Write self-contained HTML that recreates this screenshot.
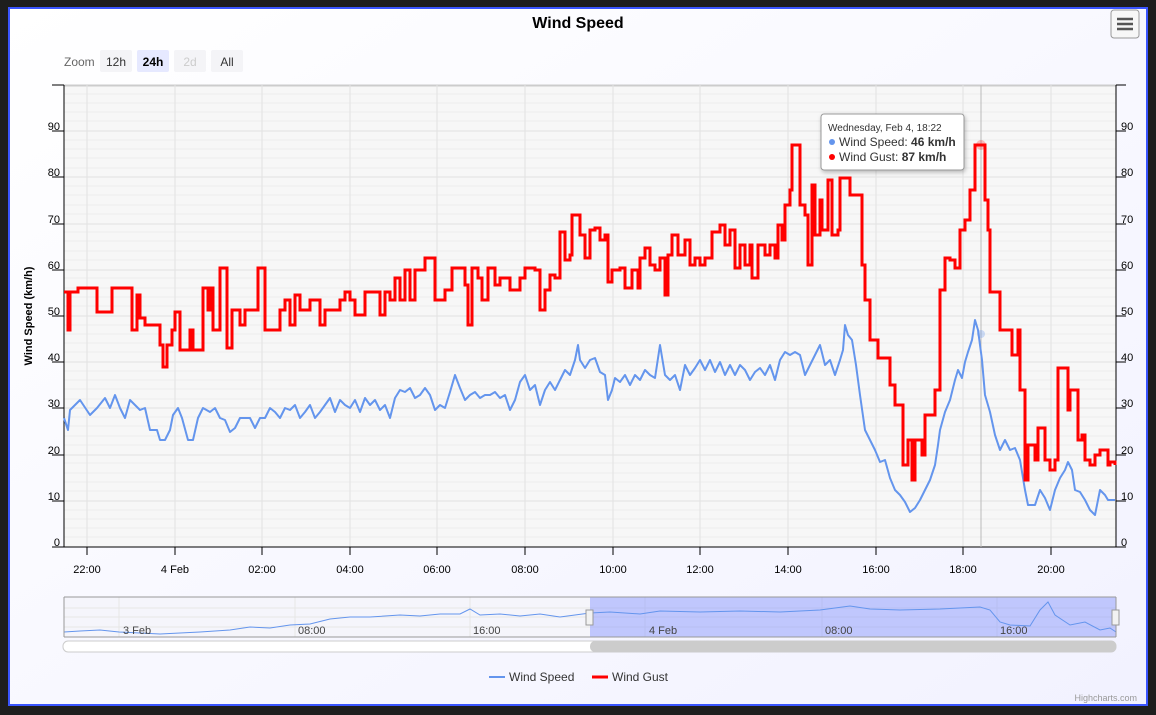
<!DOCTYPE html>
<html><head><meta charset="utf-8"><style>
body{margin:0;width:1156px;height:710px;background:#1e1e1e;overflow:hidden;font-family:"Liberation Sans",sans-serif}
</style></head><body>
<svg width="1156" height="710" xmlns="http://www.w3.org/2000/svg" font-family="Liberation Sans, sans-serif">
<defs><linearGradient id="bg" x1="0" y1="0" x2="1" y2="1"><stop offset="0" stop-color="#ffffff"/><stop offset="1" stop-color="#f2f2ff"/></linearGradient></defs>
<rect x="9" y="8" width="1138" height="697" fill="url(#bg)" stroke="#3a55ff" stroke-width="2"/>
<text x="578" y="28" text-anchor="middle" font-size="16" font-weight="bold" fill="#000">Wind Speed</text>
<rect x="1111" y="10" width="28" height="28" rx="3" fill="#f7f7f7" stroke="#999"/>
<path d="M1117 19h16M1117 24h16M1117 29h16" stroke="#555" stroke-width="2.5"/>
<text x="64" y="66" font-size="12" fill="#666">Zoom</text>
<rect x="100" y="50" width="32" height="22" rx="2" fill="#f4f4f7"/><text x="116" y="66" font-size="12" text-anchor="middle" fill="#333">12h</text>
<rect x="137" y="50" width="32" height="22" rx="2" fill="#e6e9ff"/><text x="153" y="66" font-size="12" text-anchor="middle" font-weight="bold" fill="#000">24h</text>
<rect x="174" y="50" width="32" height="22" rx="2" fill="#f4f4f7"/><text x="190" y="66" font-size="12" text-anchor="middle" fill="#ccc">2d</text>
<rect x="211" y="50" width="32" height="22" rx="2" fill="#f4f4f7"/><text x="227" y="66" font-size="12" text-anchor="middle" fill="#333">All</text>
<rect x="64" y="85" width="1052" height="462" fill="#f7f7f7"/>
<line x1="64" y1="85.5" x2="1116" y2="85.5" stroke="#ccc" stroke-width="2"/>
<g stroke="#ececec" stroke-width="1">
<path d="M64 94h1052M64 103h1052M64 112h1052M64 121h1052M64 140h1052M64 149h1052M64 158h1052M64 168h1052M64 186h1052M64 195h1052M64 205h1052M64 214h1052M64 232h1052M64 241h1052M64 251h1052M64 260h1052M64 278h1052M64 288h1052M64 297h1052M64 306h1052M64 325h1052M64 334h1052M64 343h1052M64 352h1052M64 371h1052M64 380h1052M64 389h1052M64 399h1052M64 417h1052M64 426h1052M64 436h1052M64 445h1052M64 463h1052M64 473h1052M64 482h1052M64 491h1052M64 510h1052M64 519h1052M64 528h1052M64 537h1052"/>
</g>
<g stroke="#e2e2e2"><path d="M64 131h1052M64 177h1052M64 224h1052M64 270h1052M64 316h1052M64 362h1052M64 408h1052M64 455h1052M64 501h1052"/>
<path d="M87 85v462M175 85v462M262 85v462M350 85v462M437 85v462M525 85v462M613 85v462M700 85v462M788 85v462M876 85v462M963 85v462M1051 85v462"/></g>
<g stroke="#000"><path d="M64 85v462M1116 85v462M64 547h1052"/>
<path d="M52 85h12M52 131h12M52 177h12M52 224h12M52 270h12M52 316h12M52 362h12M52 408h12M52 455h12M52 501h12M52 547h12"/>
<path d="M1116 85h10M1116 131h10M1116 177h10M1116 224h10M1116 270h10M1116 316h10M1116 362h10M1116 408h10M1116 455h10M1116 501h10M1116 547h10"/>
<path d="M87 547v8M175 547v8M262 547v8M350 547v8M437 547v8M525 547v8M613 547v8M700 547v8M788 547v8M876 547v8M963 547v8M1051 547v8"/></g>
<g font-size="11" fill="#000" text-anchor="end">
<text x="60" y="130">90</text><text x="60" y="176">80</text><text x="60" y="223">70</text><text x="60" y="269">60</text><text x="60" y="315">50</text><text x="60" y="361">40</text><text x="60" y="407">30</text><text x="60" y="454">20</text><text x="60" y="500">10</text><text x="60" y="546">0</text></g>
<g font-size="11" fill="#000">
<text x="1121" y="130">90</text><text x="1121" y="176">80</text><text x="1121" y="223">70</text><text x="1121" y="269">60</text><text x="1121" y="315">50</text><text x="1121" y="361">40</text><text x="1121" y="407">30</text><text x="1121" y="454">20</text><text x="1121" y="500">10</text><text x="1121" y="546">0</text></g>
<g font-size="11" fill="#000" text-anchor="middle">
<text x="87" y="573">22:00</text><text x="175" y="573">4 Feb</text><text x="262" y="573">02:00</text><text x="350" y="573">04:00</text><text x="437" y="573">06:00</text><text x="525" y="573">08:00</text><text x="613" y="573">10:00</text><text x="700" y="573">12:00</text><text x="788" y="573">14:00</text><text x="876" y="573">16:00</text><text x="963" y="573">18:00</text><text x="1051" y="573">20:00</text></g>
<text transform="translate(32 316) rotate(-90)" font-size="11" font-weight="bold" text-anchor="middle">Wind Speed (km/h)</text>
<line x1="981" y1="85" x2="981" y2="547" stroke="#bbb"/>
<polyline fill="none" stroke="#6495ed" stroke-width="2" stroke-linejoin="round" points="64,418 68,430 70,410 80,400 90,415 97,408 105,398 110,408 115,395 120,408 125,418 130,400 135,405 140,410 145,408 150,430 157,430 160,440 165,440 170,430 173,415 178,408 182,418 188,440 193,440 198,418 203,408 210,412 215,408 220,418 225,420 230,432 235,428 240,418 245,418 250,418 255,428 260,418 265,418 270,408 275,412 280,418 285,408 290,410 295,405 300,418 305,412 310,405 315,418 320,412 325,405 330,398 335,412 340,400 345,405 350,408 355,400 360,412 365,398 370,405 375,400 380,410 385,405 390,418 395,398 400,390 405,392 410,388 415,398 420,395 425,388 430,395 435,410 440,405 445,408 450,392 455,375 460,388 465,400 470,395 475,392 480,398 485,395 490,395 495,392 500,398 505,395 510,410 515,400 520,382 525,375 530,390 535,385 540,405 545,390 550,382 555,390 560,380 565,370 570,375 575,360 578,345 580,360 585,368 590,360 595,358 600,372 605,375 608,400 612,390 615,378 620,382 625,375 630,385 635,375 640,380 645,370 650,375 655,378 660,345 665,375 670,380 675,375 680,390 685,365 690,375 695,368 700,360 705,370 710,360 715,372 720,362 725,375 730,365 735,375 740,365 745,370 750,380 755,372 760,368 765,375 770,365 775,380 780,360 785,352 790,355 795,352 800,355 805,375 810,365 815,355 820,345 825,365 830,360 835,375 840,360 843,350 845,325 848,335 852,340 856,365 860,395 865,430 870,440 875,450 880,462 885,460 890,478 895,490 900,495 905,502 910,512 915,508 920,500 925,490 930,480 935,465 938,445 940,430 945,412 950,400 955,380 958,370 962,378 965,362 968,352 972,340 975,320 978,330 982,360 985,395 990,412 995,435 1000,450 1005,440 1010,450 1015,448 1020,460 1025,490 1028,505 1035,505 1040,490 1045,498 1050,510 1055,490 1060,478 1065,470 1068,462 1072,470 1075,490 1080,492 1085,500 1090,510 1095,515 1100,490 1105,495 1108,500 1115,500"/>
<polyline id="gust" fill="none" stroke="#ff0000" stroke-width="3" stroke-linejoin="miter" points="64,292 68,330 70,292 78,288 95,288 97,312 110,312 112,288 130,288 132,330 137,295 140,318 145,325 157,325 160,345 163,367 167,345 172,330 175,312 180,350 185,350 190,330 193,350 200,350 203,288 208,310 210,288 213,330 218,330 220,268 225,268 227,348 232,310 240,325 245,310 255,310 258,268 262,268 265,330 275,330 280,310 285,300 290,325 295,295 300,310 310,300 320,325 325,310 335,310 340,300 345,292 350,300 355,315 365,292 375,292 380,315 385,292 390,300 395,278 400,300 405,270 410,300 415,270 420,270 425,258 430,258 435,300 445,290 452,268 460,268 465,285 468,325 472,268 478,278 482,300 488,268 495,285 500,278 510,290 520,278 525,268 530,268 535,270 540,310 545,290 550,275 555,278 560,232 565,260 570,255 572,215 578,215 580,235 585,258 590,230 595,228 600,240 605,235 608,282 612,270 620,268 625,288 632,270 638,288 640,258 645,248 650,265 655,270 660,258 665,295 668,255 672,235 678,255 685,240 690,265 695,258 700,265 705,258 712,232 720,225 725,245 730,230 735,268 740,245 745,265 750,245 752,278 758,245 765,255 770,245 775,258 778,225 782,240 785,205 790,190 792,145 798,145 800,205 805,215 808,265 812,185 815,235 820,200 822,230 828,180 832,235 838,230 840,178 848,178 850,195 858,195 862,265 865,300 870,340 878,358 885,358 890,385 895,405 900,405 903,465 908,440 912,480 915,440 920,440 922,455 925,415 930,415 935,390 940,290 945,258 950,260 955,268 960,230 965,220 970,190 975,145 983,145 985,200 988,230 990,292 998,292 1000,330 1008,330 1012,355 1018,330 1020,390 1025,480 1028,445 1032,445 1035,460 1038,428 1040,428 1045,460 1050,470 1055,460 1058,368 1065,368 1068,410 1070,390 1075,390 1078,440 1082,435 1085,460 1090,465 1095,455 1100,450 1105,450 1108,465 1110,462 1115,465"/>
<circle cx="981" cy="145" r="5" fill="#ff0000" opacity="0.25"/>
<circle cx="981" cy="334" r="4" fill="#6495ed" opacity="0.3"/>
<rect x="821" y="114" width="143" height="56" rx="3" fill="#fff" stroke="#999" style="filter:drop-shadow(1px 2px 2px rgba(0,0,0,0.25))"/>
<text x="828" y="131" font-size="10" fill="#333">Wednesday, Feb 4, 18:22</text>
<circle cx="832" cy="142" r="3" fill="#6495ed"/><text x="839" y="146" font-size="12" fill="#333">Wind Speed: <tspan font-weight="bold">46 km/h</tspan></text>
<circle cx="832" cy="157" r="3" fill="#ff0000"/><text x="839" y="161" font-size="12" fill="#333">Wind Gust: <tspan font-weight="bold">87 km/h</tspan></text>
<rect x="64" y="597" width="1052" height="40" fill="#f5f5fb"/>
<path d="M119 597v40M295 597v40M470 597v40M645 597v40M822 597v40M997 597v40M64 608h1052M64 617h1052M64 627h1052" stroke="#e6e6e6"/>
<rect x="590" y="597" width="526" height="40" fill="#8090ff" opacity="0.45"/>
<polyline fill="none" stroke="#6495ed" stroke-width="1" points="64,632 80,631 100,630 119,632 140,633 160,634 200,632 230,630 250,627 270,628 290,625 310,624 330,619 350,617 370,617 400,615 420,616 440,614 460,614 470,609 480,615 500,614 520,616 540,614 560,617 590,613 610,612 640,614 660,611 700,612 740,611 780,612 820,610 850,606 870,609 900,610 940,609 980,607 990,610 1000,622 1010,625 1030,626 1040,610 1048,602 1055,615 1070,625 1085,622 1100,630 1110,628 1116,632"/>
<path d="M64 597v40M64 597h1052M1116 597v40M64 637h1052" stroke="#999" fill="none"/>
<g font-size="11" fill="#444"><text x="123" y="634">3 Feb</text><text x="298" y="634">08:00</text><text x="473" y="634">16:00</text><text x="649" y="634">4 Feb</text><text x="825" y="634">08:00</text><text x="1000" y="634">16:00</text></g>
<rect x="586" y="610" width="7" height="15" fill="#f2f2f2" stroke="#999"/><rect x="1112" y="610" width="7" height="15" fill="#f2f2f2" stroke="#999"/>
<rect x="63" y="641" width="1053" height="11" rx="5" fill="#fff" stroke="#ccc"/>
<rect x="590" y="641" width="526" height="11" rx="5" fill="#ccc"/>
<line x1="489" y1="677" x2="505" y2="677" stroke="#6495ed" stroke-width="2"/><text x="509" y="681" font-size="12" fill="#333">Wind Speed</text>
<line x1="592" y1="677" x2="608" y2="677" stroke="#ff0000" stroke-width="3"/><text x="612" y="681" font-size="12" fill="#333">Wind Gust</text>
<text x="1137" y="701" font-size="9" fill="#999" text-anchor="end">Highcharts.com</text>
</svg>
<script>
(function(){var p=document.getElementById('gust');var pts=p.getAttribute('points').trim().split(/\s+/).map(function(s){return s.split(',').map(Number);});
var out=[pts[0]];for(var i=1;i<pts.length;i++){out.push([pts[i][0],pts[i-1][1]]);out.push(pts[i]);}
p.setAttribute('points',out.map(function(a){return a.join(',');}).join(' '));})();
</script>
</body></html>
